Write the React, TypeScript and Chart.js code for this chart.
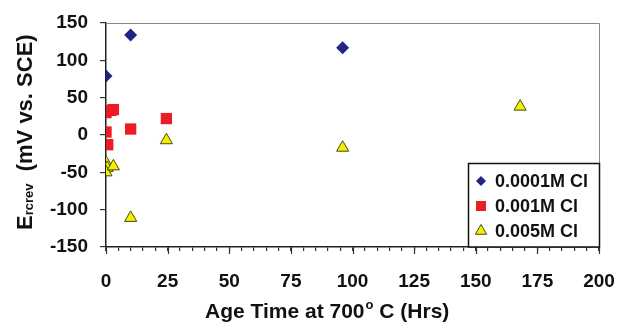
import React, { useEffect, useRef } from "react";
import { Chart, registerables } from "chart.js";

Chart.register(...registerables);

const seriesLabels = ["0.0001M Cl", "0.001M Cl", "0.005M Cl"];

const ageA = [0, 10, 96];
const eA = [79, 134, 117];

const ageB = [0, 2, 3, 0, 0.7, 10, 24.5];
const eB = [30, 33, 34, 4, -13, 8, 22];

const ageC = [0, 0.5, 0, 3, 10, 24.5, 96, 168];
const eC = [-37, -44, -50, -42, -111, -7, -17, 38];

const xTickLabels = [0, 25, 50, 75, 100, 125, 150, 175, 200];
const yTickLabels = [-150, -100, -50, 0, 50, 100, 150];

const FONT = "'Liberation Sans', Arial, sans-serif";

const toPts = (xs: number[], ys: number[]) => xs.map((x, i) => ({ x, y: ys[i] }));

const framePlugin = {
  id: "frame",
  beforeDatasetsDraw(chart: any) {
    const { ctx, chartArea: a } = chart;
    ctx.save();
    ctx.strokeStyle = "#8a8a8a";
    ctx.lineWidth = 1;
    ctx.beginPath();
    ctx.moveTo(a.left, a.top + 0.5);
    ctx.lineTo(a.right + 0.5, a.top + 0.5);
    ctx.lineTo(a.right + 0.5, a.bottom);
    ctx.stroke();
    const xs = chart.scales.x;
    ctx.strokeStyle = "#333";
    ctx.lineWidth = 1.2;
    xTickLabels.forEach((v) => {
      const px = Math.round(xs.getPixelForValue(v)) + 0.5;
      ctx.beginPath();
      ctx.moveTo(px, a.bottom);
      ctx.lineTo(px, a.bottom + 7);
      ctx.stroke();
    });
    ctx.restore();
  },
};

const titlesPlugin = {
  id: "titles",
  afterDraw(chart: any) {
    const { ctx } = chart;
    ctx.save();
    ctx.fillStyle = "#111";
    ctx.textBaseline = "alphabetic";
    ctx.textAlign = "left";
    let x = 205;
    const yb = 318;
    ctx.font = `bold 21px ${FONT}`;
    const p1 = "Age Time at 700";
    ctx.fillText(p1, x, yb);
    x += ctx.measureText(p1).width + 1;
    ctx.font = `bold 13px ${FONT}`;
    ctx.fillText("o", x, yb - 9);
    x += ctx.measureText("o").width;
    ctx.font = `bold 21px ${FONT}`;
    ctx.fillText(" C (Hrs)", x, yb);

    ctx.translate(32, 230);
    ctx.rotate(-Math.PI / 2);
    let tx = 0;
    ctx.font = `bold 22px ${FONT}`;
    ctx.fillText("E", tx, 0);
    tx += ctx.measureText("E").width;
    ctx.font = `bold 13px ${FONT}`;
    ctx.fillText("rcrev", tx, 1);
    tx += ctx.measureText("rcrev").width;
    ctx.font = `bold 22px ${FONT}`;
    ctx.fillText("  (mV vs. SCE)", tx, 0);
    ctx.restore();
  },
};

const legendPlugin = {
  id: "boxLegend",
  afterDraw(chart: any) {
    const { ctx, chartArea: a } = chart;
    const w = 131;
    const h = 84;
    const left = a.right - w;
    const top = a.bottom - h;
    ctx.save();
    ctx.fillStyle = "#fff";
    ctx.fillRect(left, top, w, h);
    ctx.strokeStyle = "#111";
    ctx.lineWidth = 1.5;
    ctx.strokeRect(left + 0.5, top + 0.5, w, h - 0.5);
    const rows = [18, 43, 68];
    chart.data.datasets.forEach((ds: any, i: number) => {
      const cy = top + rows[i];
      const cx = left + 13;
      ctx.fillStyle = ds.pointBackgroundColor;
      ctx.strokeStyle = ds.pointBorderColor;
      ctx.lineWidth = ds.pointBorderWidth;
      ctx.beginPath();
      if (ds.pointStyle === "rectRot") {
        const r = 5;
        ctx.moveTo(cx, cy - r);
        ctx.lineTo(cx + r, cy);
        ctx.lineTo(cx, cy + r);
        ctx.lineTo(cx - r, cy);
        ctx.closePath();
        ctx.fill();
      } else if (ds.pointStyle === "rect") {
        ctx.rect(cx - 5, cy - 5, 10, 10);
        ctx.fill();
      } else {
        const r = 6.5;
        ctx.moveTo(cx, cy - r);
        ctx.lineTo(cx + r * 0.866, cy + r * 0.5);
        ctx.lineTo(cx - r * 0.866, cy + r * 0.5);
        ctx.closePath();
        ctx.fill();
        ctx.stroke();
      }
      ctx.fillStyle = "#111";
      ctx.font = `bold 18px ${FONT}`;
      ctx.textBaseline = "middle";
      ctx.textAlign = "left";
      ctx.fillText(ds.label, left + 27, cy + 1);
    });
    ctx.restore();
  },
};

export default function App() {
  const ref = useRef<HTMLCanvasElement>(null);
  useEffect(() => {
    if (!ref.current) return;
    const chart = new Chart(ref.current, {
      type: "scatter",
      data: {
        datasets: [
          {
            label: seriesLabels[0],
            data: toPts(ageA, eA),
            pointStyle: "rectRot",
            pointRadius: 6.5,
            pointBackgroundColor: "#232386",
            pointBorderColor: "#232386",
            pointBorderWidth: 0,
          } as any,
          {
            label: seriesLabels[1],
            data: toPts(ageB, eB),
            pointStyle: "rect",
            pointRadius: 8,
            pointBackgroundColor: "#ec1c24",
            pointBorderColor: "#ec1c24",
            pointBorderWidth: 0,
          } as any,
          {
            label: seriesLabels[2],
            data: toPts(ageC, eC),
            pointStyle: "triangle",
            pointRadius: 7,
            pointBackgroundColor: "#f2f000",
            pointBorderColor: "#4a4a10",
            pointBorderWidth: 1,
          } as any,
        ],
      },
      options: {
        responsive: false,
        animation: false,
        devicePixelRatio: 1,
        layout: { padding: { top: 23, right: 20, left: 0, bottom: 0 } },
        plugins: { legend: { display: false }, tooltip: { enabled: false } },
        scales: {
          x: {
            type: "linear",
            min: 0,
            max: 200,
            afterFit: (s: any) => {
              s.height = 77;
              s.paddingLeft = 0;
              s.paddingRight = 0;
            },
            ticks: {
              stepSize: 5,
              autoSkip: false,
              maxRotation: 0,
              padding: 19,
              color: "#111",
              font: { family: FONT, size: 19, weight: "bold" },
              callback: (v: any) => (xTickLabels.includes(Number(v)) ? String(v) : ""),
            },
            grid: {
              drawOnChartArea: false,
              drawTicks: true,
              tickLength: 4,
              color: "#333",
              lineWidth: 1.2,
            },
            border: { display: true, color: "#222", width: 1.5 },
          },
          y: {
            type: "linear",
            min: -150,
            max: 150,
            afterFit: (s: any) => {
              s.width = 106;
              s.paddingTop = 0;
              s.paddingBottom = 0;
            },
            ticks: {
              stepSize: 50,
              padding: 12,
              color: "#111",
              font: { family: FONT, size: 19, weight: "bold" },
              callback: (v: any) => (yTickLabels.includes(Number(v)) ? String(v) : ""),
            },
            grid: {
              drawOnChartArea: false,
              drawTicks: true,
              tickLength: 6,
              color: "#333",
              lineWidth: 1.2,
            },
            border: { display: true, color: "#222", width: 1.5 },
          },
        },
      },
      plugins: [framePlugin, titlesPlugin, legendPlugin],
    });
    return () => chart.destroy();
  }, []);
  return (
    <div style={{ position: "absolute", left: 0, top: 0, width: 619, height: 324, background: "#fff" }}>
      <canvas ref={ref} width={619} height={324} />
    </div>
  );
}
